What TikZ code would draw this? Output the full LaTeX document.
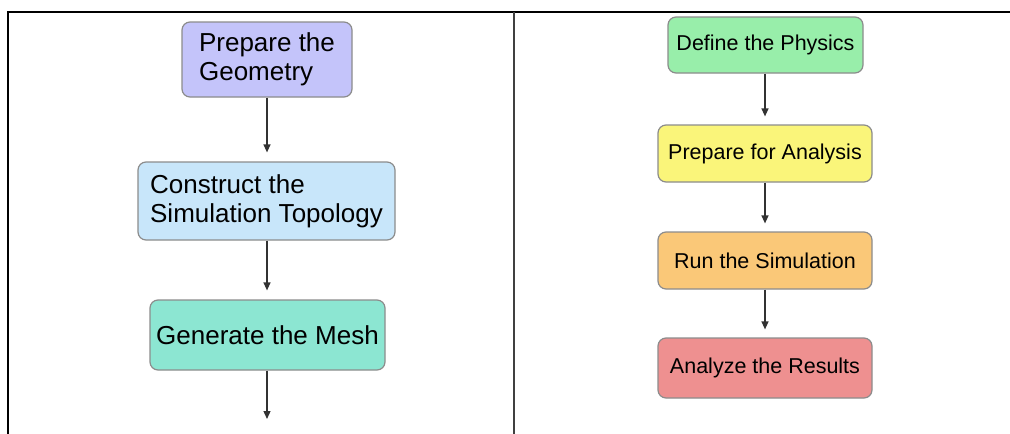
\documentclass[tikz,border=0pt]{standalone}
\usepackage{fontspec}
\setmainfont{Liberation Sans}
\usetikzlibrary{positioning,arrows.meta}

\definecolor{geocol}{RGB}{196,196,250}
\definecolor{topocol}{RGB}{200,230,250}
\definecolor{meshcol}{RGB}{140,230,210}
\definecolor{physcol}{RGB}{152,238,170}
\definecolor{prepcol}{RGB}{250,245,122}
\definecolor{runcol}{RGB}{250,200,120}
\definecolor{rescol}{RGB}{238,144,144}
\definecolor{edgecol}{RGB}{140,140,140}
\definecolor{arrcol}{RGB}{50,50,50}

\begin{document}
\begin{tikzpicture}[x=1pt,y=-1pt,
    stage/.style={draw=edgecol,line width=1.2pt,rounded corners=8pt,inner sep=0pt},
    bigtext/.style={font=\fontsize{26}{29}\selectfont,align=left},
    smalltext/.style={font=\fontsize{21.5}{25}\selectfont},
    flow/.style={draw=arrcol,line width=1.3pt,-{Triangle[width=7pt,length=8pt]}}]
    \useasboundingbox (0,0) rectangle (1010,434);
    % frame
    \draw[line width=2.5pt] (8,434) -- (8,12) -- (1010,12);
    \draw[line width=2pt,draw=black!75] (514,12) -- (514,434);
    % left column
    \node[stage,bigtext,fill=geocol,minimum width=170pt,minimum height=75pt] (geo) at (267,59.5) {Prepare the\\Geometry};
    \node[stage,bigtext,fill=topocol,minimum width=257pt,minimum height=78pt] (topo) at (266.5,201) {Construct the\\Simulation Topology};
    \node[stage,bigtext,fill=meshcol,minimum width=235pt,minimum height=70pt] (mesh) at (267.5,335) {Generate the Mesh};
    \coordinate (meshend) at (267,419);
    % right column
    \node[stage,smalltext,fill=physcol,minimum width=195pt,minimum height=56pt] (phys) at (765.5,45) {Define the Physics};
    \node[stage,smalltext,fill=prepcol,minimum width=214pt,minimum height=57pt] (prep) at (765,153.5) {Prepare for Analysis};
    \node[stage,smalltext,fill=runcol,minimum width=214pt,minimum height=57pt] (run) at (765,260.5) {Run the Simulation};
    \node[stage,smalltext,fill=rescol,minimum width=214pt,minimum height=60pt] (res) at (765,368) {Analyze the Results};
    % arrows
    \draw[flow,shorten >=9pt] (geo.south) -- (geo.south |- topo.north);
    \draw[flow,shorten >=9pt] (topo.south -| geo.south) -- (geo.south |- mesh.north);
    \draw[flow] (mesh.south -| meshend) -- (meshend);
    \draw[flow,shorten >=8pt] (phys.south -| prep.north) -- (prep.north);
    \draw[flow,shorten >=8pt] (prep.south) -- (run.north);
    \draw[flow,shorten >=8pt] (run.south) -- (res.north);
\end{tikzpicture}
\end{document}
